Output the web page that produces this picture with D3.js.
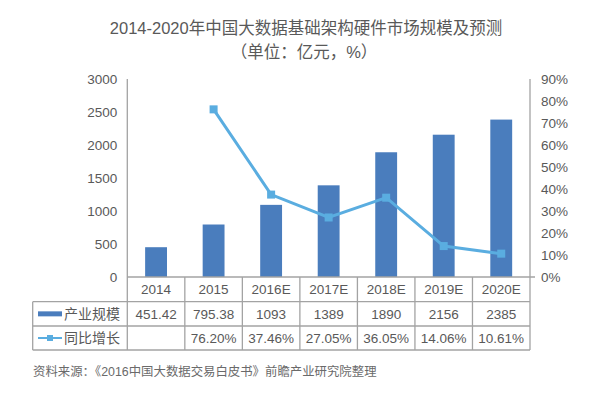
<!DOCTYPE html>
<html><head><meta charset="utf-8">
<script src="https://cdn.jsdelivr.net/npm/d3@7"></script>
<style>body{margin:0;background:#fff}svg{display:block}</style>
</head><body>
<script>
const categories = ["2014","2015","2016E","2017E","2018E","2019E","2020E"];
const scaleValues = [451.42,795.38,1093,1389,1890,2156,2385];
const scaleLabels = ["451.42","795.38","1093","1389","1890","2156","2385"];
const growthValues = [null,76.20,37.46,27.05,36.05,14.06,10.61];
const growthLabels = ["","76.20%","37.46%","27.05%","36.05%","14.06%","10.61%"];
const leftTicks = [0,500,1000,1500,2000,2500,3000];
const rightTicks = [0,10,20,30,40,50,60,70,80,90];
const seriesNames = ["产业规模","同比增长"];
const title = "2014-2020年中国大数据基础架构硬件市场规模及预测";
const subtitle = "（单位：亿元，%）";
const source = "资料来源：《2016中国大数据交易白皮书》前瞻产业研究院整理";

const W=597,H=399;
const font = "'Liberation Sans','Noto Sans CJK SC',sans-serif";
const barColor="#4a7dbd", lineColor="#5aade0", gridColor="#a3a3a3", textColor="#595959";
const svg=d3.select("body").append("svg").attr("width",W).attr("height",H).style("font-family",font);

const x0=127.3,x1=530,y0=277,yTop=79;
const x=d3.scaleBand().domain(categories).range([x0,x1]).padding(0);
const yL=d3.scaleLinear().domain([0,3000]).range([y0,yTop]);
const yR=d3.scaleLinear().domain([0,90]).range([y0,yTop]);
const bw=x.bandwidth();

// title
svg.append("text").attr("x",306).attr("y",34).attr("text-anchor","middle").attr("font-size",16.5).attr("fill",textColor).text(title);
svg.append("text").attr("x",304).attr("y",58).attr("text-anchor","middle").attr("font-size",16.5).attr("fill",textColor).text(subtitle);

// bars
svg.selectAll("rect.bar").data(categories).enter().append("rect")
  .attr("x",d=>x(d)+bw*0.31).attr("width",bw*0.38)
  .attr("y",(d,i)=>yL(scaleValues[i])).attr("height",(d,i)=>y0-yL(scaleValues[i]))
  .attr("fill",barColor);

// axes
const axL=d3.axisLeft(yL).tickValues(leftTicks).tickFormat(d3.format("d")).tickSize(0).tickPadding(10);
const gL=svg.append("g").attr("transform",`translate(${x0},0)`).call(axL);
gL.select(".domain").remove();
gL.selectAll("text").attr("font-size",13.5).attr("fill",textColor).attr("font-family",font);
const axR=d3.axisRight(yR).tickValues(rightTicks).tickFormat(d=>d+"%").tickSize(0).tickPadding(11);
const gR=svg.append("g").attr("transform",`translate(${x1},0)`).call(axR);
gR.select(".domain").remove();
gR.selectAll("text").attr("font-size",13.5).attr("fill",textColor).attr("font-family",font);

// table geometry
const tL=32.7,r1=301.7,r2=326,r3=350;
const lines=svg.append("g").attr("stroke",gridColor).attr("stroke-width",1.3);
lines.append("line").attr("x1",x0).attr("x2",x0).attr("y1",yTop).attr("y2",r3);
lines.append("line").attr("x1",x1).attr("x2",x1).attr("y1",yTop).attr("y2",r3);
lines.append("line").attr("x1",x0).attr("x2",x1+5).attr("y1",y0).attr("y2",y0);
categories.slice(1).forEach(c=>lines.append("line").attr("x1",x(c)).attr("x2",x(c)).attr("y1",y0).attr("y2",r3));
[r1,r2,r3].forEach(r=>lines.append("line").attr("x1",tL).attr("x2",x1).attr("y1",r).attr("y2",r));
lines.append("line").attr("x1",tL).attr("x2",tL).attr("y1",r1).attr("y2",r3);

// line series
const pts=categories.map((c,i)=>({c,v:growthValues[i]})).filter(d=>d.v!==null);
const line=d3.line().x(d=>x(d.c)+bw/2).y(d=>yR(d.v));
svg.append("path").datum(pts).attr("d",line).attr("fill","none").attr("stroke",lineColor).attr("stroke-width",3);
svg.selectAll("rect.mk").data(pts).enter().append("rect")
  .attr("x",d=>x(d.c)+bw/2-4).attr("y",d=>yR(d.v)-4).attr("width",8).attr("height",8).attr("fill",lineColor);

// table text
const tf=13.5;
const hy=(y0+r1)/2, ry1=(r1+r2)/2, ry2=(r2+r3)/2;
svg.selectAll("text.h").data(categories).enter().append("text")
  .attr("x",d=>x(d)+bw/2).attr("y",hy).attr("dy","0.36em").attr("text-anchor","middle")
  .attr("font-size",tf).attr("fill",textColor).text(d=>d);
svg.selectAll("text.r1").data(scaleLabels).enter().append("text")
  .attr("x",(d,i)=>x(categories[i])+bw/2).attr("y",ry1).attr("dy","0.36em").attr("text-anchor","middle")
  .attr("font-size",tf).attr("fill",textColor).text(d=>d);
svg.selectAll("text.r2").data(growthLabels).enter().append("text")
  .attr("x",(d,i)=>x(categories[i])+bw/2).attr("y",ry2).attr("dy","0.36em").attr("text-anchor","middle")
  .attr("font-size",tf).attr("fill",textColor).text(d=>d);

// legend samples
svg.append("rect").attr("x",38).attr("y",ry1-2.5).attr("width",24).attr("height",5).attr("fill",barColor);
svg.append("line").attr("x1",38).attr("x2",62).attr("y1",ry2).attr("y2",ry2).attr("stroke",lineColor).attr("stroke-width",2);
svg.append("rect").attr("x",47).attr("y",ry2-3).attr("width",6).attr("height",6).attr("fill",lineColor);
svg.append("text").attr("x",64).attr("y",ry1).attr("dy","0.36em").attr("font-size",14).attr("fill",textColor).text(seriesNames[0]);
svg.append("text").attr("x",64).attr("y",ry2).attr("dy","0.36em").attr("font-size",14).attr("fill",textColor).text(seriesNames[1]);

// source
svg.append("text").attr("x",33).attr("y",376).attr("font-size",12.4).attr("fill","#6a6a6a").text(source);
</script>
</body></html>
